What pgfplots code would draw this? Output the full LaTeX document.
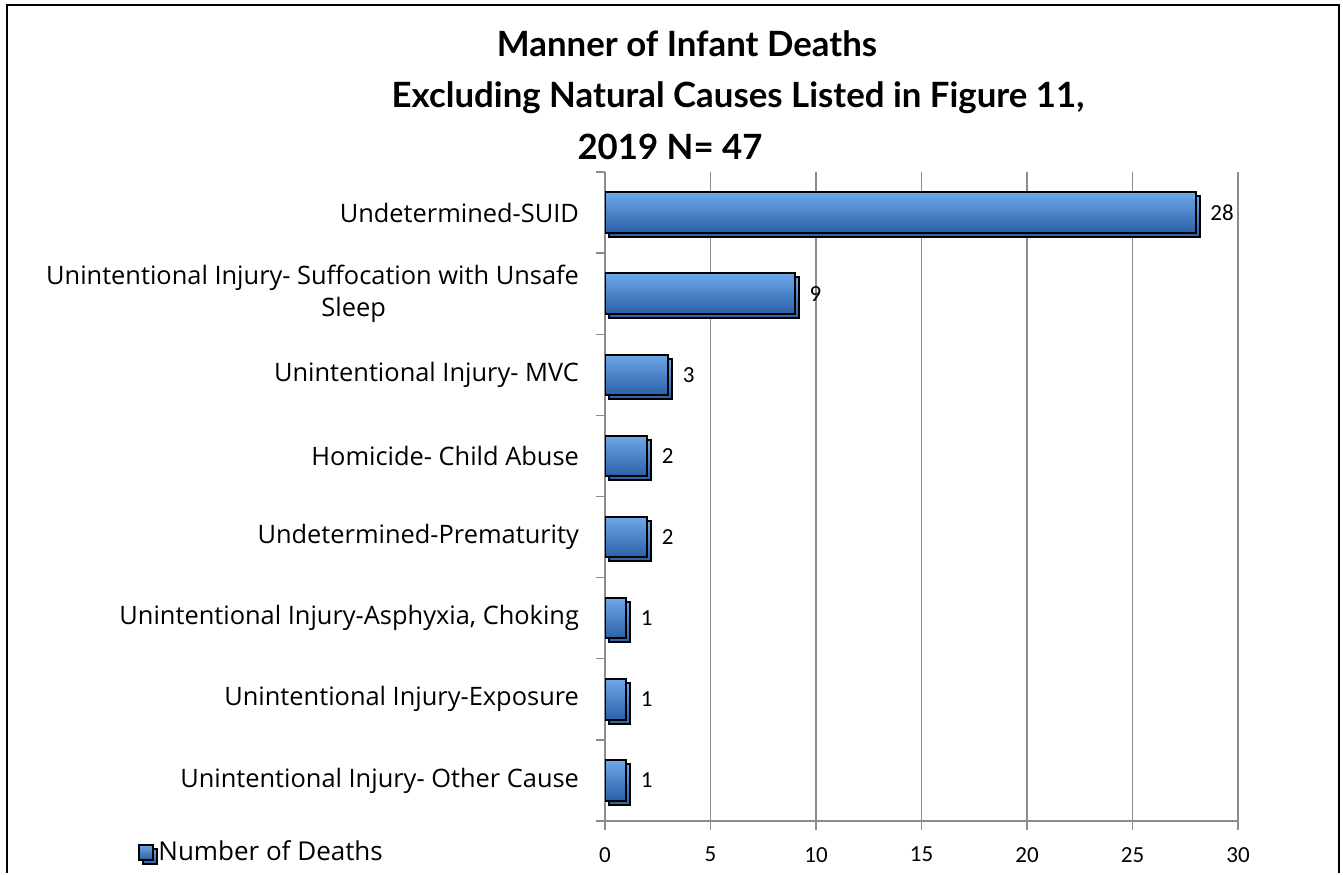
\documentclass[border=0pt]{standalone}
\usepackage{pgfplots}
\pgfplotsset{compat=1.18}
\usepackage{fontspec}
\setmainfont{Lato}
\newfontfamily\labfont{Open Sans}
\newfontfamily\numfont{Carlito}

\definecolor{barTop}{RGB}{110,168,232}
\definecolor{barMid}{RGB}{64,126,204}
\definecolor{barBot}{RGB}{42,96,168}
\definecolor{gridgray}{RGB}{140,140,140}

\pgfplotsset{
  deathbar/.style={draw=black, line width=1pt, bar shift=0pt,
    top color=barTop, middle color=barMid, bottom color=barBot,
    preaction={fill=black!16, transform canvas={xshift=2pt, yshift=-2pt}}},
}

\begin{document}
\begin{tikzpicture}
% page frame, 1px = 0.5pt
\begin{scope}[x=0.5pt,y=-0.5pt]
\path (0,0) rectangle (1343,873);
\draw[line width=1.2pt] (7,873) -- (7,5) -- (1339,5) -- (1339,873);
\node[font=\bfseries\fontsize{17.4}{20}\selectfont, anchor=base] at (687,56) {Manner of Infant Deaths};
\node[font=\bfseries\fontsize{17.4}{20}\selectfont, anchor=base] at (738,107) {Excluding Natural Causes Listed in Figure 11,};
\node[font=\bfseries\fontsize{17.4}{20}\selectfont, anchor=base] at (670,159) {2019 N= 47};
\end{scope}

\begin{axis}[
  at={(302.5pt,-410.5pt)}, anchor=south west,
  scale only axis, width=316.5pt, height=324.5pt,
  xmin=0, xmax=30, ymin=-0.5, ymax=7.5,
  xbar, bar width=0.5,
  /pgf/number format/assume math mode=true,
  axis x line*=bottom, axis y line*=left,
  axis line style={gridgray, line width=0.7pt},
  tick align=outside, major tick length=4.5pt,
  tick style={gridgray, line width=0.7pt},
  xtick={0,5,...,30},
  xticklabel style={font=\numfont\fontsize{11.5}{13}\selectfont, yshift=-5pt},
  ytick={-0.5,0.5,...,7.5},
  yticklabels={
    Unintentional Injury- Other Cause,
    Unintentional Injury-Exposure,
    {Unintentional Injury-Asphyxia, Choking},
    Undetermined-Prematurity,
    Homicide- Child Abuse,
    Unintentional Injury- MVC,
    {Unintentional Injury- Suffocation with Unsafe\\Sleep\hspace*{96.5pt}},
    Undetermined-SUID,
    {}},
  yticklabel style={font=\labfont\fontsize{12.7}{16}\selectfont, align=right, yshift=20.25pt, xshift=-5pt},
  xmajorgrids, grid style={gridgray, line width=0.7pt},
  legend style={at={(axis description cs:-0.739,-0.048)}, anchor=west, draw=none,
    fill=none, font=\labfont\fontsize{13}{16}\selectfont, inner sep=0pt},
  legend image code/.code={
    \draw[black, line width=1pt, top color=barTop, bottom color=barBot]
      (0pt,-3.7pt) rectangle (7.4pt,3.7pt);},
  nodes near coords,
  nodes near coords style={font=\numfont\fontsize{11.5}{13}\selectfont, anchor=west, xshift=3.5pt, black},
]
\addplot[deathbar] coordinates {(28,7)};
\addlegendentry{Number of Deaths}
\addplot[deathbar, forget plot] coordinates {(9,6)};
\addplot[deathbar, forget plot] coordinates {(3,5)};
\addplot[deathbar, forget plot] coordinates {(2,4)};
\addplot[deathbar, forget plot] coordinates {(2,3)};
\addplot[deathbar, forget plot] coordinates {(1,2)};
\addplot[deathbar, forget plot] coordinates {(1,1)};
\addplot[deathbar, forget plot] coordinates {(1,0)};
\end{axis}
\end{tikzpicture}
\end{document}
